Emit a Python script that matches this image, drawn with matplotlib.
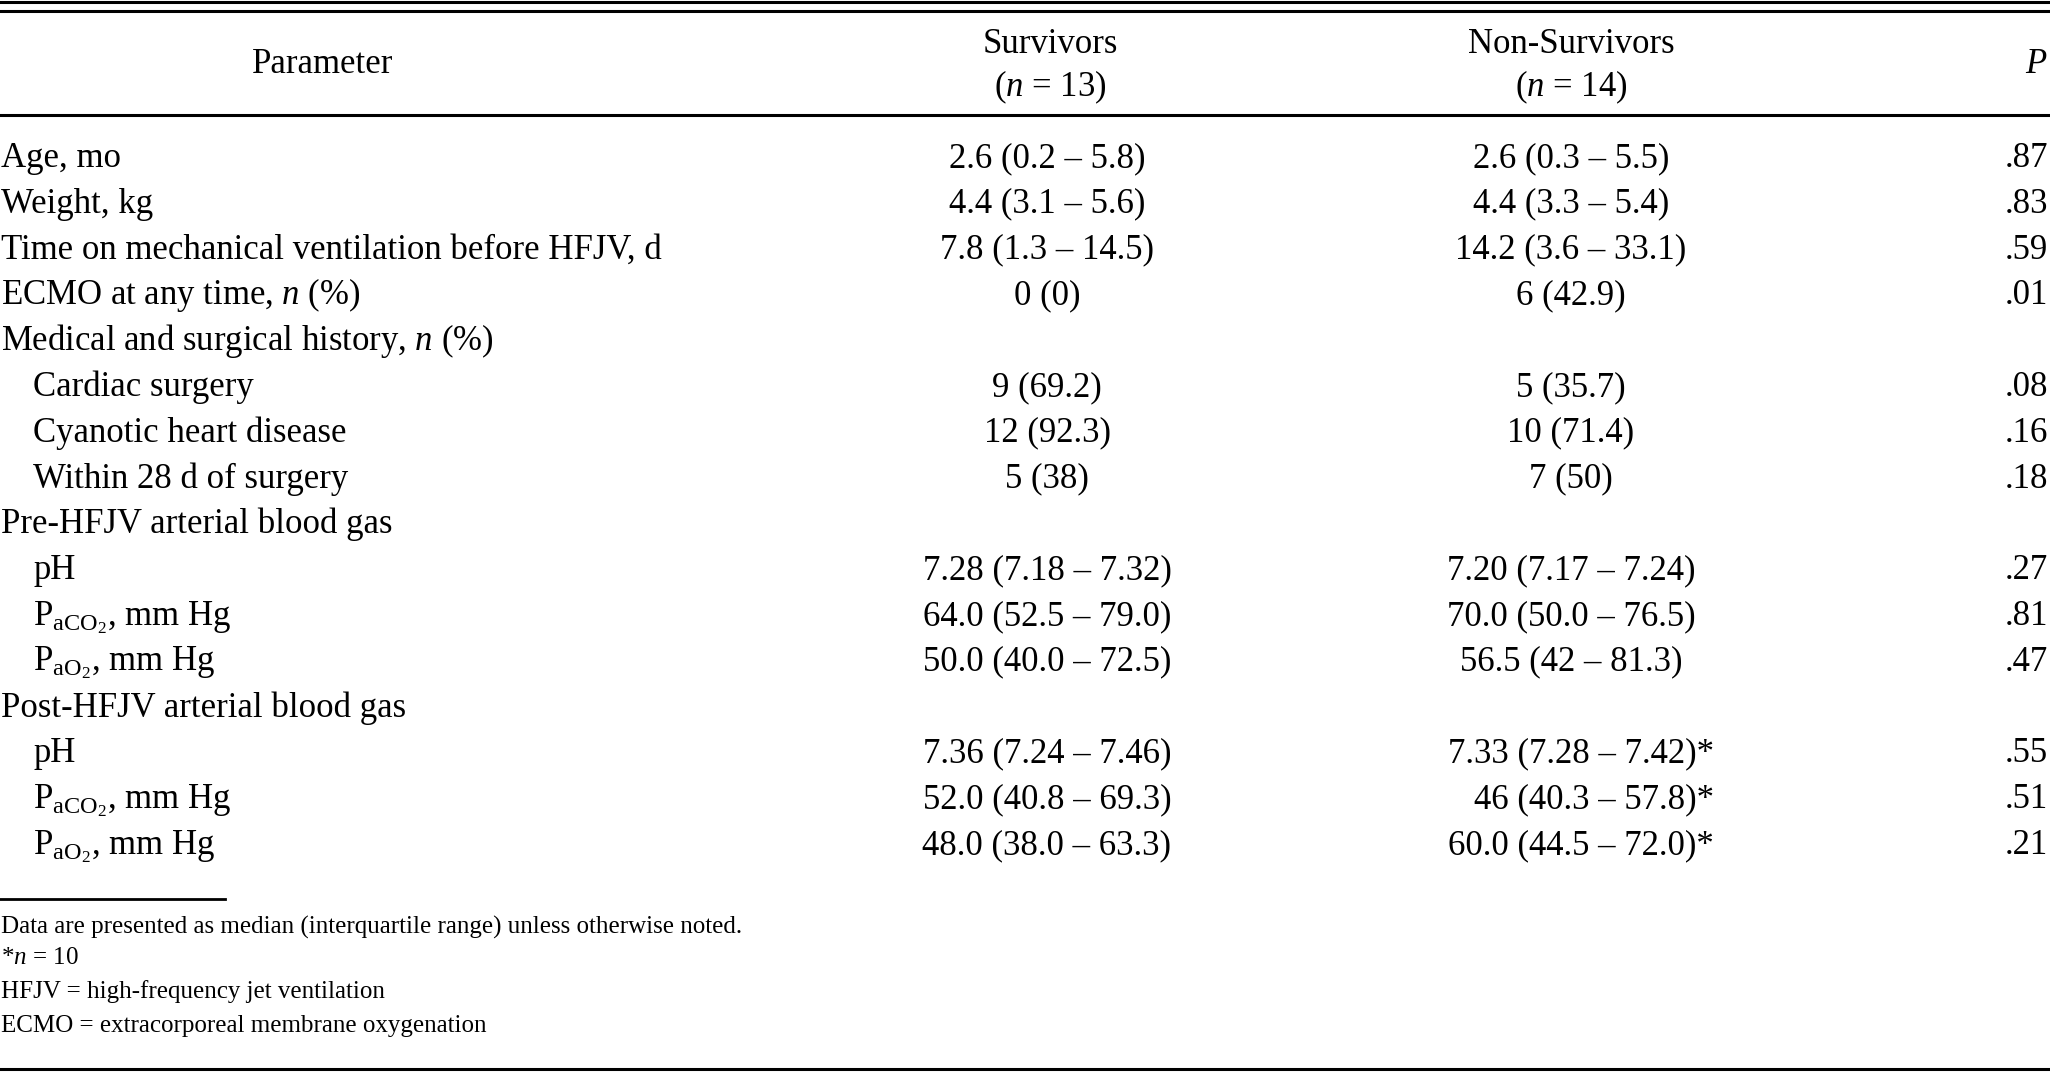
import matplotlib
matplotlib.use("Agg")
import matplotlib.pyplot as plt

plt.rcParams['font.family'] = ['Liberation Serif', 'DejaVu Serif']
plt.rcParams['mathtext.fontset'] = 'custom'
plt.rcParams['mathtext.rm'] = 'Liberation Serif'
plt.rcParams['mathtext.it'] = 'Liberation Serif:italic'
plt.rcParams['mathtext.bf'] = 'Liberation Serif:bold'

header_param = "Parameter"
header_surv = ["Survivors", "($n$ = 13)"]
header_nonsurv = ["Non-Survivors", "($n$ = 14)"]
header_p = "$P$"

labels = [
    "Age, mo",
    "Weight, kg",
    "Time on mechanical ventilation before HFJV, d",
    "ECMO at any time, $n$ (%)",
    "Medical and surgical history, $n$ (%)",
    "Cardiac surgery",
    "Cyanotic heart disease",
    "Within 28 d of surgery",
    "Pre-HFJV arterial blood gas",
    "pH",
    r"P$_{\mathrm{aCO}_2}$, mm Hg",
    r"P$_{\mathrm{aO}_2}$, mm Hg",
    "Post-HFJV arterial blood gas",
    "pH",
    r"P$_{\mathrm{aCO}_2}$, mm Hg",
    r"P$_{\mathrm{aO}_2}$, mm Hg",
]
indent = [0, 0, 0, 0, 0, 1, 1, 1, 0, 1, 1, 1, 0, 1, 1, 1]
survivors = [
    "2.6 (0.2 – 5.8)", "4.4 (3.1 – 5.6)", "7.8 (1.3 – 14.5)", "0 (0)", "",
    "9 (69.2)", "12 (92.3)", "5 (38)", "",
    "7.28 (7.18 – 7.32)", "64.0 (52.5 – 79.0)", "50.0 (40.0 – 72.5)", "",
    "7.36 (7.24 – 7.46)", "52.0 (40.8 – 69.3)", "48.0 (38.0 – 63.3)",
]
nonsurvivors = [
    "2.6 (0.3 – 5.5)", "4.4 (3.3 – 5.4)", "14.2 (3.6 – 33.1)", "6 (42.9)", "",
    "5 (35.7)", "10 (71.4)", "7 (50)", "",
    "7.20 (7.17 – 7.24)", "70.0 (50.0 – 76.5)", "56.5 (42 – 81.3)", "",
    "7.33 (7.28 – 7.42)*", "46 (40.3 – 57.8)*", "60.0 (44.5 – 72.0)*",
]
pvalues = [".87", ".83", ".59", ".01", "", ".08", ".16", ".18", "",
           ".27", ".81", ".47", "", ".55", ".51", ".21"]
footnotes = [
    "Data are presented as median (interquartile range) unless otherwise noted.",
    "*$n$ = 10",
    "HFJV = high-frequency jet ventilation",
    "ECMO = extracorporeal membrane oxygenation",
]

W, H = 2050, 1073
fig = plt.figure(figsize=(W / 100, H / 100), dpi=100)
ax = fig.add_axes([0, 0, 1, 1])
ax.set_xlim(0, W)
ax.set_ylim(H, 0)
ax.axis('off')

fs = 25
ffs = 18

# rules
ax.plot([0, W], [2, 2], color='black', lw=2.2)
ax.plot([0, W], [11, 11], color='black', lw=2.2)
ax.plot([0, W], [115, 115], color='black', lw=2.2)
ax.plot([0, 225], [899, 899], color='black', lw=2.0)
ax.plot([0, W], [1069, 1069], color='black', lw=2.2)

x_surv = 1047
x_non = 1571
x_non_star_right = 1714
x_p = 2048

kw = dict(fontsize=fs, va='baseline')
# header
ax.text(323, 73, header_param, ha='center', **kw)
ax.text(x_surv + 3, 53, header_surv[0], ha='center', **kw)
ax.text(x_surv + 3, 96, header_surv[1], ha='center', **kw)
ax.text(x_non, 53, header_nonsurv[0], ha='center', **kw)
ax.text(x_non, 96, header_nonsurv[1], ha='center', **kw)
ax.text(x_p, 73, header_p, ha='right', **kw)

y0 = 167
dy = 45.8
for i, lab in enumerate(labels):
    y = y0 + i * dy
    ax.text(1 + 32 * indent[i], y, lab, ha='left', **kw)
    if survivors[i]:
        ax.text(x_surv, y, survivors[i], ha='center', **kw)
    if nonsurvivors[i]:
        if nonsurvivors[i].endswith('*'):
            ax.text(x_non_star_right, y, nonsurvivors[i], ha='right', **kw)
        else:
            ax.text(x_non, y, nonsurvivors[i], ha='center', **kw)
    if pvalues[i]:
        ax.text(x_p, y, pvalues[i], ha='right', **kw)

fy = [934, 964, 998, 1032]
for t, y in zip(footnotes, fy):
    ax.text(1, y, t, fontsize=ffs, ha='left', va='baseline')

fig.savefig('out.png', dpi=100)
